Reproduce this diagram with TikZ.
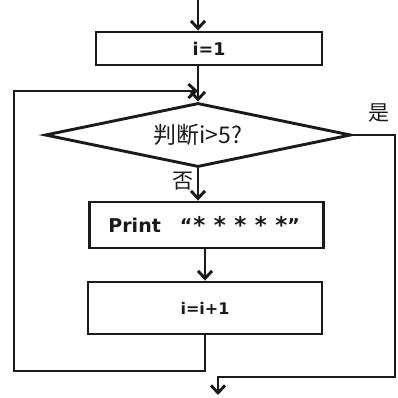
\documentclass[tikz,border=0pt]{standalone}
\usepackage{fontspec}
\setmainfont{DejaVu Sans}
\newfontfamily\cjk{Noto Sans CJK SC}
\usetikzlibrary{arrows.meta,shapes.geometric}
\definecolor{ink}{HTML}{1A1A1A}
% a heavy star for the printed pattern
\newcommand{\heavystar}{\raisebox{-1.5pt}{\fontsize{23}{23}\selectfont *}}

\begin{document}
\begin{tikzpicture}[x=1pt,y=-1pt,
  line width=2.9pt, draw=ink, text=ink,
  box/.style={draw=ink, rectangle, inner sep=0pt, font=\bfseries\fontsize{16}{18}\selectfont},
  decision/.style={draw=ink, diamond, aspect=4.8, inner sep=0pt,
    minimum width=306pt, minimum height=64pt, font=\cjk\fontsize{23}{25}\selectfont},
  lbl/.style={inner sep=0pt, font=\cjk\fontsize{21}{23}\selectfont},
  arr/.style={draw=ink, -{Straight Barb[length=7.5pt,width=14pt]}, line join=miter}
]
\useasboundingbox (0,0) rectangle (397,398);

% process blocks and the test
\coordinate (start) at (198,0);
\node[box, minimum width=226pt, minimum height=33pt,
      font=\bfseries\fontsize{17.5}{19}\selectfont] (init) at (209,48.5) {i=1};
\node[decision] (test) at (198,135) {判断i>5?};
\node[box, minimum width=234pt, minimum height=46pt, anchor=west,
      font=\bfseries\fontsize{19}{21}\selectfont] (print) at (88,225)
      {\makebox[232pt][l]{\hspace{18pt}Print\hspace{19pt}“\hspace{1pt}\heavystar\hspace{8.5pt}\heavystar\hspace{8.5pt}\heavystar\hspace{8.5pt}\heavystar\hspace{8.5pt}\heavystar\hspace{0pt}”}};
\node[box, minimum width=234pt, minimum height=52pt] (incr) at (205,308) {i=i+1};

% branch labels
\node[lbl] (yes) at (379,113) {是};
\node[lbl] (no) at (183,181) {否};

% loop corners and exit
\coordinate (lb) at (14,371);
\coordinate (lt) at (14,91);
\coordinate (rt) at (395,135);
\coordinate (rb) at (395,377);
\coordinate (exit) at (218,395);

% connectors
\draw[arr] (start) -- (start |- init.north);
\draw[arr] (init.south -| test.north) -- (test.north);
\draw[arr] (test.south) -- (test.south |- print.north);
\draw[arr] (print.south -| incr.south) -- (incr.north);
\draw[arr] (incr.south) |- (lb) -- (lt) -- (lt -| test.north);
\draw[arr] (test.east) -- (rt) -- (rb) -- (rb -| exit) -- (exit);
\end{tikzpicture}
\end{document}
